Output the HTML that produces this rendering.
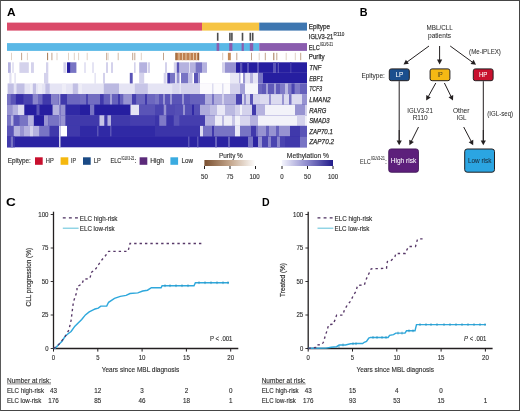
<!DOCTYPE html>
<html><head><meta charset="utf-8"><style>
html,body{margin:0;padding:0;width:520px;height:411px;overflow:hidden;background:#fff}
svg{filter:blur(0.55px)}
</style></head><body>
<svg width="520" height="411" viewBox="0 0 520 411" style="position:absolute;left:0;top:0;font-family:'Liberation Sans', sans-serif">
<rect x="0" y="0" width="520" height="411" fill="#fff"/>
<rect x="7" y="62.3" width="300" height="10.90000000000001" fill="#ffffff"/>
<rect x="8.0" y="62.3" width="2.8" height="10.90000000000001" fill="#b5b2df"/>
<rect x="12.0" y="62.3" width="2.0" height="10.90000000000001" fill="#e5e4f4"/>
<rect x="19.4" y="62.3" width="9.4" height="10.90000000000001" fill="#d4d2ec"/>
<rect x="31.0" y="62.3" width="2.9" height="10.90000000000001" fill="#d4d2ec"/>
<rect x="46.0" y="62.3" width="2.3" height="10.90000000000001" fill="#d4d2ec"/>
<rect x="63.4" y="62.3" width="2.9" height="10.90000000000001" fill="#d4d2ec"/>
<rect x="67.0" y="62.3" width="3.7" height="10.90000000000001" fill="#261ea0"/>
<rect x="70.7" y="62.3" width="5.7" height="10.90000000000001" fill="#7874c4"/>
<rect x="84.0" y="62.3" width="2.0" height="10.90000000000001" fill="#e5e4f4"/>
<rect x="92.0" y="62.3" width="2.0" height="10.90000000000001" fill="#e5e4f4"/>
<rect x="106.0" y="62.3" width="2.0" height="10.90000000000001" fill="#d4d2ec"/>
<rect x="111.0" y="62.3" width="2.0" height="10.90000000000001" fill="#d4d2ec"/>
<rect x="134.0" y="62.3" width="1.6" height="10.90000000000001" fill="#d4d2ec"/>
<rect x="139.2" y="62.3" width="7.9" height="10.90000000000001" fill="#b5b2df"/>
<rect x="147.8" y="62.3" width="2.2" height="10.90000000000001" fill="#d4d2ec"/>
<rect x="165.0" y="62.3" width="2.0" height="10.90000000000001" fill="#d4d2ec"/>
<rect x="173.8" y="62.3" width="2.2" height="10.90000000000001" fill="#d4d2ec"/>
<rect x="176.6" y="62.3" width="2.9" height="10.90000000000001" fill="#5a54b7"/>
<rect x="180.0" y="62.3" width="9.0" height="10.90000000000001" fill="#b5b2df"/>
<rect x="189.6" y="62.3" width="5.8" height="10.90000000000001" fill="#b5b2df"/>
<rect x="195.4" y="62.3" width="6.6" height="10.90000000000001" fill="#7874c4"/>
<rect x="202.0" y="62.3" width="5.0" height="10.90000000000001" fill="#b5b2df"/>
<rect x="222.0" y="62.3" width="3.0" height="10.90000000000001" fill="#d4d2ec"/>
<rect x="225.0" y="62.3" width="11.0" height="10.90000000000001" fill="#9793d1"/>
<rect x="236.0" y="62.3" width="21.0" height="10.90000000000001" fill="#261ea0"/>
<rect x="240.0" y="62.3" width="2.3" height="10.90000000000001" fill="#5a54b7"/>
<rect x="247.0" y="62.3" width="2.0" height="10.90000000000001" fill="#5a54b7"/>
<rect x="257.0" y="62.3" width="2.0" height="10.90000000000001" fill="#5a54b7"/>
<rect x="259.0" y="62.3" width="48.0" height="10.90000000000001" fill="#261ea0"/>
<rect x="273.0" y="62.3" width="3.0" height="10.90000000000001" fill="#5a54b7"/>
<rect x="277.7" y="62.3" width="1.3" height="10.90000000000001" fill="#5a54b7"/>
<rect x="290.0" y="62.3" width="1.5" height="10.90000000000001" fill="#4039ab"/>
<rect x="7" y="72.9" width="300" height="10.899999999999995" fill="#ffffff"/>
<rect x="9.3" y="72.9" width="2.2" height="10.899999999999995" fill="#e1e0f2"/>
<rect x="14.4" y="72.9" width="1.4" height="10.899999999999995" fill="#e1e0f2"/>
<rect x="44.0" y="72.9" width="4.3" height="10.899999999999995" fill="#d4d2ec"/>
<rect x="94.4" y="72.9" width="1.5" height="10.899999999999995" fill="#e5e4f4"/>
<rect x="103.0" y="72.9" width="2.0" height="10.899999999999995" fill="#d4d2ec"/>
<rect x="129.8" y="72.9" width="2.9" height="10.899999999999995" fill="#5a54b7"/>
<rect x="139.2" y="72.9" width="5.0" height="10.899999999999995" fill="#d4d2ec"/>
<rect x="163.7" y="72.9" width="2.8" height="10.899999999999995" fill="#d4d2ec"/>
<rect x="167.3" y="72.9" width="2.7" height="10.899999999999995" fill="#4039ab"/>
<rect x="170.0" y="72.9" width="5.2" height="10.899999999999995" fill="#7874c4"/>
<rect x="176.6" y="72.9" width="2.9" height="10.899999999999995" fill="#9793d1"/>
<rect x="181.0" y="72.9" width="7.0" height="10.899999999999995" fill="#7874c4"/>
<rect x="188.0" y="72.9" width="4.5" height="10.899999999999995" fill="#c1bfe4"/>
<rect x="194.0" y="72.9" width="4.3" height="10.899999999999995" fill="#5a54b7"/>
<rect x="198.3" y="72.9" width="1.7" height="10.899999999999995" fill="#9793d1"/>
<rect x="200.0" y="72.9" width="30.0" height="10.899999999999995" fill="#ffffff"/>
<rect x="230.0" y="72.9" width="10.0" height="10.899999999999995" fill="#e9e8f6"/>
<rect x="239.0" y="72.9" width="1.5" height="10.899999999999995" fill="#b5b2df"/>
<rect x="243.0" y="72.9" width="2.4" height="10.899999999999995" fill="#9793d1"/>
<rect x="245.4" y="72.9" width="4.6" height="10.899999999999995" fill="#e5e4f4"/>
<rect x="250.0" y="72.9" width="3.0" height="10.899999999999995" fill="#b5b2df"/>
<rect x="253.0" y="72.9" width="5.0" height="10.899999999999995" fill="#e5e4f4"/>
<rect x="258.0" y="72.9" width="5.0" height="10.899999999999995" fill="#7874c4"/>
<rect x="263.0" y="72.9" width="44.0" height="10.899999999999995" fill="#261ea0"/>
<rect x="7" y="83.5" width="300" height="10.899999999999995" fill="#e5e4f4"/>
<rect x="10.0" y="83.5" width="2.0" height="10.899999999999995" fill="#f2f2f9"/>
<rect x="30.0" y="83.5" width="2.0" height="10.899999999999995" fill="#eeedf7"/>
<rect x="38.0" y="83.5" width="4.0" height="10.899999999999995" fill="#eeedf7"/>
<rect x="62.0" y="83.5" width="4.0" height="10.899999999999995" fill="#eeedf7"/>
<rect x="79.0" y="83.5" width="3.0" height="10.899999999999995" fill="#eeedf7"/>
<rect x="8.0" y="83.5" width="5.7" height="10.899999999999995" fill="#c1bfe4"/>
<rect x="16.5" y="83.5" width="8.0" height="10.899999999999995" fill="#c1bfe4"/>
<rect x="33.0" y="83.5" width="3.0" height="10.899999999999995" fill="#c1bfe4"/>
<rect x="45.4" y="83.5" width="4.3" height="10.899999999999995" fill="#c1bfe4"/>
<rect x="72.8" y="83.5" width="5.1" height="10.899999999999995" fill="#c1bfe4"/>
<rect x="103.8" y="83.5" width="15.2" height="10.899999999999995" fill="#bbb9e1"/>
<rect x="134.8" y="83.5" width="13.0" height="10.899999999999995" fill="#c7c5e7"/>
<rect x="172.3" y="83.5" width="7.2" height="10.899999999999995" fill="#d8d6ee"/>
<rect x="181.0" y="83.5" width="17.3" height="10.899999999999995" fill="#d4d2ec"/>
<rect x="198.0" y="83.5" width="2.0" height="10.899999999999995" fill="#d4d2ec"/>
<rect x="200.0" y="83.5" width="30.0" height="10.899999999999995" fill="#fbfafd"/>
<rect x="212.0" y="83.5" width="1.5" height="10.899999999999995" fill="#dcdbf0"/>
<rect x="222.0" y="83.5" width="1.5" height="10.899999999999995" fill="#dcdbf0"/>
<rect x="230.0" y="83.5" width="10.0" height="10.899999999999995" fill="#d4d2ec"/>
<rect x="240.0" y="83.5" width="5.0" height="10.899999999999995" fill="#a3a0d7"/>
<rect x="245.0" y="83.5" width="13.0" height="10.899999999999995" fill="#f6f6fb"/>
<rect x="258.0" y="83.5" width="4.0" height="10.899999999999995" fill="#6c67bf"/>
<rect x="262.0" y="83.5" width="18.0" height="10.899999999999995" fill="#605ab9"/>
<rect x="266.0" y="83.5" width="2.0" height="10.899999999999995" fill="#a3a0d7"/>
<rect x="274.0" y="83.5" width="2.0" height="10.899999999999995" fill="#a3a0d7"/>
<rect x="280.0" y="83.5" width="20.0" height="10.899999999999995" fill="#7f7ac7"/>
<rect x="285.0" y="83.5" width="3.0" height="10.899999999999995" fill="#bbb9e1"/>
<rect x="291.5" y="83.5" width="3.1" height="10.899999999999995" fill="#4a44b0"/>
<rect x="300.0" y="83.5" width="7.0" height="10.899999999999995" fill="#6661bc"/>
<rect x="7" y="94.1" width="300" height="10.90000000000001" fill="#6c67bf"/>
<rect x="7.0" y="94.1" width="3.8" height="10.90000000000001" fill="#7874c4"/>
<rect x="10.8" y="94.1" width="5.0" height="10.90000000000001" fill="#5a54b7"/>
<rect x="15.8" y="94.1" width="8.0" height="10.90000000000001" fill="#362ea7"/>
<rect x="23.8" y="94.1" width="8.6" height="10.90000000000001" fill="#4a44b0"/>
<rect x="33.0" y="94.1" width="5.0" height="10.90000000000001" fill="#8b86cc"/>
<rect x="38.0" y="94.1" width="4.5" height="10.90000000000001" fill="#6c67bf"/>
<rect x="42.5" y="94.1" width="8.5" height="10.90000000000001" fill="#4039ab"/>
<rect x="51.0" y="94.1" width="7.4" height="10.90000000000001" fill="#8580c9"/>
<rect x="60.5" y="94.1" width="6.5" height="10.90000000000001" fill="#4039ab"/>
<rect x="67.0" y="94.1" width="13.0" height="10.90000000000001" fill="#6c67bf"/>
<rect x="80.0" y="94.1" width="20.0" height="10.90000000000001" fill="#726dc1"/>
<rect x="86.0" y="94.1" width="2.0" height="10.90000000000001" fill="#4a44b0"/>
<rect x="100.0" y="94.1" width="3.8" height="10.90000000000001" fill="#4039ab"/>
<rect x="103.8" y="94.1" width="19.5" height="10.90000000000001" fill="#6661bc"/>
<rect x="110.0" y="94.1" width="2.0" height="10.90000000000001" fill="#a3a0d7"/>
<rect x="118.0" y="94.1" width="2.0" height="10.90000000000001" fill="#4039ab"/>
<rect x="123.3" y="94.1" width="8.7" height="10.90000000000001" fill="#9793d1"/>
<rect x="132.0" y="94.1" width="4.3" height="10.90000000000001" fill="#453eae"/>
<rect x="136.3" y="94.1" width="18.7" height="10.90000000000001" fill="#6c67bf"/>
<rect x="145.0" y="94.1" width="2.0" height="10.90000000000001" fill="#4039ab"/>
<rect x="155.0" y="94.1" width="4.0" height="10.90000000000001" fill="#7874c4"/>
<rect x="159.0" y="94.1" width="16.0" height="10.90000000000001" fill="#5a54b7"/>
<rect x="163.0" y="94.1" width="2.0" height="10.90000000000001" fill="#9793d1"/>
<rect x="170.0" y="94.1" width="2.0" height="10.90000000000001" fill="#9793d1"/>
<rect x="175.0" y="94.1" width="15.0" height="10.90000000000001" fill="#5a54b7"/>
<rect x="182.0" y="94.1" width="2.0" height="10.90000000000001" fill="#9793d1"/>
<rect x="190.0" y="94.1" width="15.0" height="10.90000000000001" fill="#6661bc"/>
<rect x="205.0" y="94.1" width="31.0" height="10.90000000000001" fill="#afacdc"/>
<rect x="212.0" y="94.1" width="2.0" height="10.90000000000001" fill="#7874c4"/>
<rect x="222.0" y="94.1" width="2.0" height="10.90000000000001" fill="#d4d2ec"/>
<rect x="236.0" y="94.1" width="6.0" height="10.90000000000001" fill="#4a44b0"/>
<rect x="242.0" y="94.1" width="8.0" height="10.90000000000001" fill="#d4d2ec"/>
<rect x="244.0" y="94.1" width="2.0" height="10.90000000000001" fill="#9793d1"/>
<rect x="250.0" y="94.1" width="3.0" height="10.90000000000001" fill="#5a54b7"/>
<rect x="253.0" y="94.1" width="7.0" height="10.90000000000001" fill="#d4d2ec"/>
<rect x="260.0" y="94.1" width="47.0" height="10.90000000000001" fill="#dcdbf0"/>
<rect x="269.0" y="94.1" width="2.0" height="10.90000000000001" fill="#9793d1"/>
<rect x="282.0" y="94.1" width="2.0" height="10.90000000000001" fill="#9793d1"/>
<rect x="289.0" y="94.1" width="2.5" height="10.90000000000001" fill="#7874c4"/>
<rect x="302.0" y="94.1" width="5.0" height="10.90000000000001" fill="#9793d1"/>
<rect x="7" y="104.7" width="300" height="10.899999999999995" fill="#4039ab"/>
<rect x="7.0" y="104.7" width="5.2" height="10.899999999999995" fill="#9793d1"/>
<rect x="12.2" y="104.7" width="5.8" height="10.899999999999995" fill="#b5b2df"/>
<rect x="18.0" y="104.7" width="6.5" height="10.899999999999995" fill="#dcdbf0"/>
<rect x="24.5" y="104.7" width="28.1" height="10.899999999999995" fill="#261ea0"/>
<rect x="36.5" y="104.7" width="3.0" height="10.899999999999995" fill="#5a54b7"/>
<rect x="52.6" y="104.7" width="6.4" height="10.899999999999995" fill="#b5b2df"/>
<rect x="60.5" y="104.7" width="5.1" height="10.899999999999995" fill="#9793d1"/>
<rect x="65.6" y="104.7" width="14.4" height="10.899999999999995" fill="#3029a5"/>
<rect x="80.0" y="104.7" width="10.0" height="10.899999999999995" fill="#261ea0"/>
<rect x="90.0" y="104.7" width="4.4" height="10.899999999999995" fill="#7874c4"/>
<rect x="94.4" y="104.7" width="36.1" height="10.899999999999995" fill="#261ea0"/>
<rect x="130.5" y="104.7" width="8.7" height="10.899999999999995" fill="#e5e4f4"/>
<rect x="139.2" y="104.7" width="15.8" height="10.899999999999995" fill="#5a54b7"/>
<rect x="155.0" y="104.7" width="8.7" height="10.899999999999995" fill="#4a44b0"/>
<rect x="163.7" y="104.7" width="2.8" height="10.899999999999995" fill="#9793d1"/>
<rect x="166.5" y="104.7" width="8.5" height="10.899999999999995" fill="#5049b2"/>
<rect x="175.0" y="104.7" width="25.0" height="10.899999999999995" fill="#554fb5"/>
<rect x="183.0" y="104.7" width="2.0" height="10.899999999999995" fill="#9793d1"/>
<rect x="192.0" y="104.7" width="2.0" height="10.899999999999995" fill="#3029a5"/>
<rect x="200.0" y="104.7" width="10.0" height="10.899999999999995" fill="#afacdc"/>
<rect x="210.0" y="104.7" width="7.0" height="10.899999999999995" fill="#c1bfe4"/>
<rect x="217.0" y="104.7" width="8.0" height="10.899999999999995" fill="#e9e8f6"/>
<rect x="225.0" y="104.7" width="10.0" height="10.899999999999995" fill="#bbb9e1"/>
<rect x="235.0" y="104.7" width="17.0" height="10.899999999999995" fill="#d4d2ec"/>
<rect x="240.0" y="104.7" width="2.0" height="10.899999999999995" fill="#f2f2f9"/>
<rect x="252.0" y="104.7" width="4.0" height="10.899999999999995" fill="#4039ab"/>
<rect x="256.0" y="104.7" width="9.0" height="10.899999999999995" fill="#b5b2df"/>
<rect x="265.0" y="104.7" width="30.0" height="10.899999999999995" fill="#f2f2f9"/>
<rect x="295.0" y="104.7" width="10.0" height="10.899999999999995" fill="#9793d1"/>
<rect x="305.0" y="104.7" width="2.0" height="10.899999999999995" fill="#d4d2ec"/>
<rect x="7" y="115.3" width="300" height="10.90000000000001" fill="#4a44b0"/>
<rect x="7.0" y="115.3" width="3.8" height="10.90000000000001" fill="#7874c4"/>
<rect x="10.8" y="115.3" width="2.9" height="10.90000000000001" fill="#b5b2df"/>
<rect x="13.7" y="115.3" width="5.7" height="10.90000000000001" fill="#5a54b7"/>
<rect x="19.4" y="115.3" width="8.6" height="10.90000000000001" fill="#7874c4"/>
<rect x="28.0" y="115.3" width="5.9" height="10.90000000000001" fill="#b5b2df"/>
<rect x="33.9" y="115.3" width="10.1" height="10.90000000000001" fill="#261ea0"/>
<rect x="44.0" y="115.3" width="4.3" height="10.90000000000001" fill="#9793d1"/>
<rect x="48.3" y="115.3" width="10.7" height="10.90000000000001" fill="#7874c4"/>
<rect x="60.5" y="115.3" width="5.1" height="10.90000000000001" fill="#9793d1"/>
<rect x="65.6" y="115.3" width="14.4" height="10.90000000000001" fill="#4039ab"/>
<rect x="80.0" y="115.3" width="19.5" height="10.90000000000001" fill="#4039ab"/>
<rect x="99.5" y="115.3" width="5.0" height="10.90000000000001" fill="#c7c5e7"/>
<rect x="104.5" y="115.3" width="3.0" height="10.90000000000001" fill="#4039ab"/>
<rect x="107.5" y="115.3" width="3.5" height="10.90000000000001" fill="#b5b2df"/>
<rect x="111.0" y="115.3" width="19.5" height="10.90000000000001" fill="#4039ab"/>
<rect x="130.5" y="115.3" width="24.5" height="10.90000000000001" fill="#453eae"/>
<rect x="155.0" y="115.3" width="4.3" height="10.90000000000001" fill="#3b34a9"/>
<rect x="159.3" y="115.3" width="7.2" height="10.90000000000001" fill="#7f7ac7"/>
<rect x="166.5" y="115.3" width="7.3" height="10.90000000000001" fill="#3b34a9"/>
<rect x="173.8" y="115.3" width="5.7" height="10.90000000000001" fill="#5a54b7"/>
<rect x="179.5" y="115.3" width="25.5" height="10.90000000000001" fill="#453eae"/>
<rect x="205.0" y="115.3" width="10.0" height="10.90000000000001" fill="#b5b2df"/>
<rect x="215.0" y="115.3" width="17.0" height="10.90000000000001" fill="#eeedf7"/>
<rect x="222.0" y="115.3" width="2.0" height="10.90000000000001" fill="#bbb9e1"/>
<rect x="232.0" y="115.3" width="3.0" height="10.90000000000001" fill="#c7c5e7"/>
<rect x="235.0" y="115.3" width="5.0" height="10.90000000000001" fill="#f2f2f9"/>
<rect x="240.0" y="115.3" width="10.0" height="10.90000000000001" fill="#d8d6ee"/>
<rect x="250.0" y="115.3" width="8.0" height="10.90000000000001" fill="#b5b2df"/>
<rect x="258.0" y="115.3" width="49.0" height="10.90000000000001" fill="#f2f2f9"/>
<rect x="297.0" y="115.3" width="8.0" height="10.90000000000001" fill="#d4d2ec"/>
<rect x="7" y="125.9" width="300" height="10.899999999999995" fill="#4039ab"/>
<rect x="7.0" y="125.9" width="6.7" height="10.899999999999995" fill="#5a54b7"/>
<rect x="13.7" y="125.9" width="25.9" height="10.899999999999995" fill="#b5b2df"/>
<rect x="20.0" y="125.9" width="4.0" height="10.899999999999995" fill="#9793d1"/>
<rect x="30.0" y="125.9" width="3.0" height="10.899999999999995" fill="#d4d2ec"/>
<rect x="39.6" y="125.9" width="10.1" height="10.899999999999995" fill="#7874c4"/>
<rect x="49.7" y="125.9" width="8.7" height="10.899999999999995" fill="#4039ab"/>
<rect x="60.5" y="125.9" width="6.5" height="10.899999999999995" fill="#ffffff"/>
<rect x="67.0" y="125.9" width="13.0" height="10.899999999999995" fill="#4039ab"/>
<rect x="80.0" y="125.9" width="75.0" height="10.899999999999995" fill="#3029a5"/>
<rect x="97.0" y="125.9" width="1.5" height="10.899999999999995" fill="#5a54b7"/>
<rect x="110.0" y="125.9" width="1.5" height="10.899999999999995" fill="#5a54b7"/>
<rect x="155.0" y="125.9" width="45.0" height="10.899999999999995" fill="#3b34a9"/>
<rect x="200.0" y="125.9" width="3.0" height="10.899999999999995" fill="#dcdbf0"/>
<rect x="203.0" y="125.9" width="32.0" height="10.899999999999995" fill="#7874c4"/>
<rect x="212.0" y="125.9" width="2.0" height="10.899999999999995" fill="#4039ab"/>
<rect x="235.0" y="125.9" width="5.0" height="10.899999999999995" fill="#e9e8f6"/>
<rect x="240.0" y="125.9" width="18.0" height="10.899999999999995" fill="#7874c4"/>
<rect x="251.0" y="125.9" width="5.0" height="10.899999999999995" fill="#4039ab"/>
<rect x="258.0" y="125.9" width="32.0" height="10.899999999999995" fill="#9793d1"/>
<rect x="266.0" y="125.9" width="3.0" height="10.899999999999995" fill="#6661bc"/>
<rect x="276.0" y="125.9" width="3.0" height="10.899999999999995" fill="#6661bc"/>
<rect x="290.0" y="125.9" width="10.0" height="10.899999999999995" fill="#4039ab"/>
<rect x="300.0" y="125.9" width="7.0" height="10.899999999999995" fill="#5a54b7"/>
<rect x="7" y="136.5" width="300" height="10.8" fill="#2b23a2"/>
<rect x="7.0" y="136.5" width="8.0" height="10.8" fill="#4039ab"/>
<rect x="10.8" y="136.5" width="2.2" height="10.8" fill="#7874c4"/>
<rect x="188.0" y="136.5" width="1.5" height="10.8" fill="#5a54b7"/>
<rect x="197.0" y="136.5" width="1.5" height="10.8" fill="#5a54b7"/>
<rect x="215.0" y="136.5" width="2.0" height="10.8" fill="#6661bc"/>
<rect x="228.0" y="136.5" width="2.0" height="10.8" fill="#6661bc"/>
<rect x="248.0" y="136.5" width="5.0" height="10.8" fill="#7874c4"/>
<rect x="258.0" y="136.5" width="4.0" height="10.8" fill="#9793d1"/>
<rect x="262.0" y="136.5" width="23.0" height="10.8" fill="#4a44b0"/>
<rect x="268.0" y="136.5" width="3.0" height="10.8" fill="#8b86cc"/>
<rect x="277.0" y="136.5" width="3.0" height="10.8" fill="#8b86cc"/>
<rect x="285.0" y="136.5" width="15.0" height="10.8" fill="#4039ab"/>
<rect x="300.0" y="136.5" width="7.0" height="10.8" fill="#7874c4"/>
<rect x="59.2" y="125.9" width="1.2" height="21.099999999999994" fill="#fff"/>
<rect x="59.2" y="94.1" width="1.0" height="31.80000000000001" fill="#fff" opacity="0.5"/>
<rect x="7" y="22.6" width="195" height="8" fill="#da4a69"/>
<rect x="202" y="22.6" width="57.2" height="8" fill="#f6c443"/>
<rect x="259.2" y="22.6" width="47.8" height="8" fill="#3e76b0"/>
<rect x="7" y="43.1" width="252.2" height="7.8" fill="#5ab8e6"/>
<rect x="259.2" y="43.1" width="47.8" height="7.8" fill="#8a5cae"/>
<rect x="216.6" y="43.1" width="2.5999999999999943" height="7.8" fill="#8a5cae"/>
<rect x="229.2" y="43.1" width="3.200000000000017" height="7.8" fill="#8a5cae"/>
<rect x="241.6" y="43.1" width="2.200000000000017" height="7.8" fill="#8a5cae"/>
<rect x="249.8" y="43.1" width="3.3999999999999773" height="7.8" fill="#8a5cae"/>
<rect x="216.89999999999998" y="32.8" width="1.6" height="8" fill="#4d4d4d"/>
<rect x="229.1" y="32.8" width="1.6" height="8" fill="#4d4d4d"/>
<rect x="231.1" y="32.8" width="1.6" height="8" fill="#4d4d4d"/>
<rect x="241.7" y="32.8" width="1.6" height="8" fill="#4d4d4d"/>
<rect x="249.5" y="32.8" width="1.6" height="8" fill="#4d4d4d"/>
<rect x="251.89999999999998" y="32.8" width="1.6" height="8" fill="#4d4d4d"/>
<rect x="11.0" y="52.8" width="1.0" height="7.4" fill="#e0d2c6"/>
<rect x="21.1" y="52.8" width="1.0" height="7.4" fill="#c2a48c"/>
<rect x="26.9" y="52.8" width="1.0" height="7.4" fill="#e0d2c6"/>
<rect x="47.1" y="52.8" width="1.0" height="7.4" fill="#a37753"/>
<rect x="51.4" y="52.8" width="1.0" height="7.4" fill="#c2a48c"/>
<rect x="56.5" y="52.8" width="1.0" height="7.4" fill="#e0d2c6"/>
<rect x="68.0" y="52.8" width="1.0" height="7.4" fill="#e0d2c6"/>
<rect x="73.8" y="52.8" width="1.0" height="7.4" fill="#e0d2c6"/>
<rect x="78.1" y="52.8" width="1.0" height="7.4" fill="#e0d2c6"/>
<rect x="86.7" y="52.8" width="1.0" height="7.4" fill="#e0d2c6"/>
<rect x="106.2" y="52.8" width="1.0" height="7.4" fill="#c2a48c"/>
<rect x="107.6" y="52.8" width="1.0" height="7.4" fill="#e0d2c6"/>
<rect x="117.7" y="52.8" width="1.0" height="7.4" fill="#d1bba9"/>
<rect x="132.2" y="52.8" width="1.0" height="7.4" fill="#c2a48c"/>
<rect x="134.3" y="52.8" width="1.0" height="7.4" fill="#c2a48c"/>
<rect x="140.8" y="52.8" width="1.0" height="7.4" fill="#e0d2c6"/>
<rect x="163.0" y="52.8" width="1.0" height="7.4" fill="#c2a48c"/>
<rect x="222.2" y="52.8" width="1.0" height="7.4" fill="#dac9ba"/>
<rect x="236.3" y="52.8" width="1.0" height="7.4" fill="#c2a48c"/>
<rect x="251.0" y="52.8" width="1.0" height="7.4" fill="#c2a48c"/>
<rect x="258.7" y="52.8" width="1.0" height="7.4" fill="#e0d2c6"/>
<rect x="264.8" y="52.8" width="1.0" height="7.4" fill="#c2a48c"/>
<rect x="273.3" y="52.8" width="1.0" height="7.4" fill="#a37753"/>
<rect x="276.3" y="52.8" width="1.0" height="7.4" fill="#c2a48c"/>
<rect x="285.7" y="52.8" width="1.0" height="7.4" fill="#e0d2c6"/>
<rect x="294.8" y="52.8" width="1.0" height="7.4" fill="#e0d2c6"/>
<rect x="300.2" y="52.8" width="1.0" height="7.4" fill="#c2a48c"/>
<rect x="175.5" y="52.8" width="23.5" height="7.4" fill="#c08150"/>
<rect x="227.9" y="52.8" width="2.9" height="7.4" fill="#c48a58"/>
<rect x="175.5" y="52.8" width="0.9" height="7.4" fill="#8a5a30"/>
<rect x="198.3" y="52.8" width="0.9" height="7.4" fill="#8a5a30"/>
<rect x="178.5" y="52.8" width="1" height="7.4" fill="#e6c9a8"/>
<rect x="182" y="52.8" width="1" height="7.4" fill="#e6c9a8"/>
<rect x="185.5" y="52.8" width="1" height="7.4" fill="#e6c9a8"/>
<rect x="189.5" y="52.8" width="1" height="7.4" fill="#e6c9a8"/>
<rect x="193" y="52.8" width="1" height="7.4" fill="#e6c9a8"/>
<rect x="196" y="52.8" width="1" height="7.4" fill="#e6c9a8"/>
<text x="308.8" y="28.9" font-size="7.0" text-anchor="start" fill="#2e2e2e" font-weight="normal" font-style="normal" textLength="21.2" lengthAdjust="spacingAndGlyphs" stroke="#2e2e2e" stroke-width="0.25" >Epitype</text>
<text x="308.8" y="39.3" font-size="7.0" text-anchor="start" fill="#2e2e2e" font-weight="normal" font-style="normal" textLength="24.4" lengthAdjust="spacingAndGlyphs" stroke="#2e2e2e" stroke-width="0.25" >IGLV3-21</text>
<text x="333.6" y="36.4" font-size="5.0" text-anchor="start" fill="#2e2e2e" font-weight="normal" font-style="normal" textLength="10.8" lengthAdjust="spacingAndGlyphs" stroke="#2e2e2e" stroke-width="0.14" >R110</text>
<text x="308.8" y="49.5" font-size="7.0" text-anchor="start" fill="#2e2e2e" font-weight="normal" font-style="normal" textLength="11" lengthAdjust="spacingAndGlyphs" stroke="#2e2e2e" stroke-width="0.25" >ELC</text>
<text x="320.2" y="46.2" font-size="5.0" text-anchor="start" fill="#2e2e2e" font-weight="normal" font-style="normal" textLength="12.6" lengthAdjust="spacingAndGlyphs" stroke="#2e2e2e" stroke-width="0.14" >IGLV3-21</text>
<text x="308.8" y="58.9" font-size="7.0" text-anchor="start" fill="#2e2e2e" font-weight="normal" font-style="normal" textLength="15.8" lengthAdjust="spacingAndGlyphs" stroke="#2e2e2e" stroke-width="0.25" >Purity</text>
<text x="309.2" y="70.1" font-size="7.5" text-anchor="start" fill="#2e2e2e" font-weight="normal" font-style="italic" textLength="12.2" lengthAdjust="spacingAndGlyphs" stroke="#2e2e2e" stroke-width="0.25" >TNF</text>
<text x="309.2" y="80.7" font-size="7.5" text-anchor="start" fill="#2e2e2e" font-weight="normal" font-style="italic" textLength="13.8" lengthAdjust="spacingAndGlyphs" stroke="#2e2e2e" stroke-width="0.25" >EBF1</text>
<text x="309.2" y="91.3" font-size="7.5" text-anchor="start" fill="#2e2e2e" font-weight="normal" font-style="italic" textLength="12.8" lengthAdjust="spacingAndGlyphs" stroke="#2e2e2e" stroke-width="0.25" >TCF3</text>
<text x="309.2" y="101.9" font-size="7.5" text-anchor="start" fill="#2e2e2e" font-weight="normal" font-style="italic" textLength="21.4" lengthAdjust="spacingAndGlyphs" stroke="#2e2e2e" stroke-width="0.25" >LMAN2</text>
<text x="309.2" y="112.5" font-size="7.5" text-anchor="start" fill="#2e2e2e" font-weight="normal" font-style="italic" textLength="17.1" lengthAdjust="spacingAndGlyphs" stroke="#2e2e2e" stroke-width="0.25" >RARG</text>
<text x="309.2" y="123.1" font-size="7.5" text-anchor="start" fill="#2e2e2e" font-weight="normal" font-style="italic" textLength="20.3" lengthAdjust="spacingAndGlyphs" stroke="#2e2e2e" stroke-width="0.25" >SMAD3</text>
<text x="309.2" y="133.7" font-size="7.5" text-anchor="start" fill="#2e2e2e" font-weight="normal" font-style="italic" textLength="23.6" lengthAdjust="spacingAndGlyphs" stroke="#2e2e2e" stroke-width="0.25" >ZAP70.1</text>
<text x="309.2" y="144.2" font-size="7.5" text-anchor="start" fill="#2e2e2e" font-weight="normal" font-style="italic" textLength="24.8" lengthAdjust="spacingAndGlyphs" stroke="#2e2e2e" stroke-width="0.25" >ZAP70.2</text>
<text x="7.7" y="163.2" font-size="7.0" text-anchor="start" fill="#2e2e2e" font-weight="normal" font-style="normal" textLength="23.1" lengthAdjust="spacingAndGlyphs" stroke="#2e2e2e" stroke-width="0.14" >Epitype:</text>
<rect x="35" y="157.3" width="7.7" height="7.5" fill="#c8102e"/>
<text x="45.8" y="163.2" font-size="7.0" text-anchor="start" fill="#2e2e2e" font-weight="normal" font-style="normal" textLength="8" lengthAdjust="spacingAndGlyphs" stroke="#2e2e2e" stroke-width="0.14" >HP</text>
<rect x="60.6" y="157.3" width="7.7" height="7.5" fill="#f5b80f"/>
<text x="71" y="163.2" font-size="7.0" text-anchor="start" fill="#2e2e2e" font-weight="normal" font-style="normal" textLength="5" lengthAdjust="spacingAndGlyphs" stroke="#2e2e2e" stroke-width="0.14" >IP</text>
<rect x="83" y="157.3" width="7.7" height="7.5" fill="#1a4a85"/>
<text x="93.8" y="163.2" font-size="7.0" text-anchor="start" fill="#2e2e2e" font-weight="normal" font-style="normal" textLength="7" lengthAdjust="spacingAndGlyphs" stroke="#2e2e2e" stroke-width="0.14" >LP</text>
<text x="110.4" y="163.2" font-size="7.0" text-anchor="start" fill="#2e2e2e" font-weight="normal" font-style="normal" textLength="10.9" lengthAdjust="spacingAndGlyphs" stroke="#2e2e2e" stroke-width="0.14" >ELC</text>
<text x="121.4" y="160.3" font-size="5.0" text-anchor="start" fill="#2e2e2e" font-weight="normal" font-style="normal" textLength="12.9" lengthAdjust="spacingAndGlyphs" stroke="#2e2e2e" stroke-width="0.12" >IGLV3-21</text>
<text x="134.6" y="163.2" font-size="7.0" text-anchor="start" fill="#2e2e2e" font-weight="normal" font-style="normal" stroke="#2e2e2e" stroke-width="0.14" >:</text>
<rect x="139.6" y="157.3" width="7.7" height="7.5" fill="#5b2a7a"/>
<text x="150.2" y="163.2" font-size="7.0" text-anchor="start" fill="#2e2e2e" font-weight="normal" font-style="normal" textLength="13.8" lengthAdjust="spacingAndGlyphs" stroke="#2e2e2e" stroke-width="0.14" >High</text>
<rect x="170.4" y="157.3" width="7.7" height="7.5" fill="#3aabe0"/>
<text x="181.5" y="163.2" font-size="7.0" text-anchor="start" fill="#2e2e2e" font-weight="normal" font-style="normal" textLength="11.4" lengthAdjust="spacingAndGlyphs" stroke="#2e2e2e" stroke-width="0.14" >Low</text>
<defs><linearGradient id="gp" x1="0" x2="1"><stop offset="0" stop-color="#7a5030"/><stop offset="0.5" stop-color="#c4a68c"/><stop offset="1" stop-color="#ffffff"/></linearGradient><linearGradient id="gm" x1="0" x2="1"><stop offset="0" stop-color="#f4f4fc"/><stop offset="0.5" stop-color="#8c89cc"/><stop offset="1" stop-color="#211b8a"/></linearGradient></defs>
<text x="230.9" y="158.3" font-size="7.0" text-anchor="middle" fill="#2e2e2e" font-weight="normal" font-style="normal" textLength="23.8" lengthAdjust="spacingAndGlyphs" stroke="#2e2e2e" stroke-width="0.14" >Purity %</text>
<rect x="204.4" y="160" width="51.2" height="6" fill="url(#gp)"/>
<rect x="204.0" y="166" width="1" height="3" fill="#231f20"/>
<rect x="229.5" y="166" width="1" height="3" fill="#231f20"/>
<rect x="255.0" y="166" width="1" height="3" fill="#231f20"/>
<text x="204.5" y="179.3" font-size="7.0" text-anchor="middle" fill="#2e2e2e" font-weight="normal" font-style="normal" textLength="6.8" lengthAdjust="spacingAndGlyphs" stroke="#2e2e2e" stroke-width="0.14" >50</text>
<text x="230" y="179.3" font-size="7.0" text-anchor="middle" fill="#2e2e2e" font-weight="normal" font-style="normal" textLength="6.8" lengthAdjust="spacingAndGlyphs" stroke="#2e2e2e" stroke-width="0.14" >75</text>
<text x="254.5" y="179.3" font-size="7.0" text-anchor="middle" fill="#2e2e2e" font-weight="normal" font-style="normal" textLength="10.2" lengthAdjust="spacingAndGlyphs" stroke="#2e2e2e" stroke-width="0.14" >100</text>
<text x="307.9" y="158.3" font-size="7.0" text-anchor="middle" fill="#2e2e2e" font-weight="normal" font-style="normal" textLength="42.2" lengthAdjust="spacingAndGlyphs" stroke="#2e2e2e" stroke-width="0.14" >Methylation %</text>
<rect x="281.8" y="160" width="51.2" height="6" fill="url(#gm)"/>
<rect x="281.5" y="166" width="1" height="3" fill="#231f20"/>
<rect x="307.0" y="166" width="1" height="3" fill="#231f20"/>
<rect x="332.5" y="166" width="1" height="3" fill="#231f20"/>
<text x="282" y="179.3" font-size="7.0" text-anchor="middle" fill="#2e2e2e" font-weight="normal" font-style="normal" textLength="3.4" lengthAdjust="spacingAndGlyphs" stroke="#2e2e2e" stroke-width="0.14" >0</text>
<text x="307.5" y="179.3" font-size="7.0" text-anchor="middle" fill="#2e2e2e" font-weight="normal" font-style="normal" textLength="6.8" lengthAdjust="spacingAndGlyphs" stroke="#2e2e2e" stroke-width="0.14" >50</text>
<text x="333" y="179.3" font-size="7.0" text-anchor="middle" fill="#2e2e2e" font-weight="normal" font-style="normal" textLength="10.2" lengthAdjust="spacingAndGlyphs" stroke="#2e2e2e" stroke-width="0.14" >100</text>
<text x="7" y="16.3" font-size="11.5" text-anchor="start" fill="#000" font-weight="bold" font-style="normal" textLength="8.6" lengthAdjust="spacingAndGlyphs" >A</text>
<text x="359.8" y="16.3" font-size="11.5" text-anchor="start" fill="#000" font-weight="bold" font-style="normal" textLength="7.8" lengthAdjust="spacingAndGlyphs" >B</text>
<text x="6" y="205.6" font-size="11.5" text-anchor="start" fill="#000" font-weight="bold" font-style="normal" textLength="9.8" lengthAdjust="spacingAndGlyphs" >C</text>
<text x="262" y="206" font-size="11.5" text-anchor="start" fill="#000" font-weight="bold" font-style="normal" textLength="7.6" lengthAdjust="spacingAndGlyphs" >D</text>
<text x="439.6" y="30.2" font-size="7.0" text-anchor="middle" fill="#2e2e2e" font-weight="normal" font-style="normal" textLength="26.2" lengthAdjust="spacingAndGlyphs" stroke="#2e2e2e" stroke-width="0.05" >MBL/CLL</text>
<text x="439.5" y="38.0" font-size="7.0" text-anchor="middle" fill="#2e2e2e" font-weight="normal" font-style="normal" textLength="23" lengthAdjust="spacingAndGlyphs" stroke="#2e2e2e" stroke-width="0.05" >patients</text>
<text x="485" y="53.7" font-size="7.0" text-anchor="middle" fill="#2e2e2e" font-weight="normal" font-style="normal" textLength="31.8" lengthAdjust="spacingAndGlyphs" stroke="#2e2e2e" stroke-width="0.05" >(Me-iPLEX)</text>
<line x1="429" y1="46" x2="406.97" y2="62.07" stroke="#231f20" stroke-width="1.0"/>
<polygon points="403.50,64.60 405.85,59.67 408.91,63.87" fill="#231f20"/>
<line x1="439.6" y1="46" x2="439.60" y2="60.10" stroke="#231f20" stroke-width="1.0"/>
<polygon points="439.60,64.40 437.00,59.60 442.20,59.60" fill="#231f20"/>
<line x1="450.2" y1="46" x2="472.52" y2="62.27" stroke="#231f20" stroke-width="1.0"/>
<polygon points="476.00,64.80 470.59,64.07 473.65,59.87" fill="#231f20"/>
<rect x="389.3" y="68.9" width="20.0" height="11.799999999999997" rx="2" ry="2" fill="#1b4f8e" stroke="#231f20" stroke-width="1"/>
<text x="399.3" y="77.0" font-size="7.0" text-anchor="middle" fill="#fff" font-weight="normal" font-style="normal" textLength="7.6" lengthAdjust="spacingAndGlyphs" stroke="#fff" stroke-width="0.05" >LP</text>
<rect x="430.1" y="68.9" width="19.799999999999955" height="11.799999999999997" rx="2" ry="2" fill="#f5b914" stroke="#231f20" stroke-width="1"/>
<text x="440.0" y="77.0" font-size="7.0" text-anchor="middle" fill="#5a4a20" font-weight="normal" font-style="normal" textLength="5.2" lengthAdjust="spacingAndGlyphs" stroke="#5a4a20" stroke-width="0.05" >IP</text>
<rect x="473.3" y="68.9" width="19.80000000000001" height="11.799999999999997" rx="2" ry="2" fill="#c8102e" stroke="#231f20" stroke-width="1"/>
<text x="483.20000000000005" y="77.0" font-size="7.0" text-anchor="middle" fill="#fff" font-weight="normal" font-style="normal" textLength="8.4" lengthAdjust="spacingAndGlyphs" stroke="#fff" stroke-width="0.05" >HP</text>
<text x="384.9" y="77.7" font-size="7.0" text-anchor="end" fill="#2e2e2e" font-weight="normal" font-style="normal" textLength="23.5" lengthAdjust="spacingAndGlyphs" stroke="#2e2e2e" stroke-width="0.05" >Epitype:</text>
<line x1="399.2" y1="81.2" x2="399.2" y2="141" stroke="#231f20" stroke-width="1"/>
<line x1="399.2" y1="130" x2="399.20" y2="140.90" stroke="#231f20" stroke-width="1.0"/>
<polygon points="399.20,145.20 396.60,140.40 401.80,140.40" fill="#231f20"/>
<line x1="483.3" y1="81.2" x2="483.3" y2="141" stroke="#231f20" stroke-width="1"/>
<line x1="483.3" y1="130" x2="483.30" y2="140.90" stroke="#231f20" stroke-width="1.0"/>
<polygon points="483.30,145.20 480.70,140.40 485.90,140.40" fill="#231f20"/>
<line x1="435.8" y1="83" x2="428.28" y2="96.64" stroke="#231f20" stroke-width="1.0"/>
<polygon points="426.20,100.40 426.24,94.94 430.80,97.45" fill="#231f20"/>
<line x1="444.4" y1="83" x2="451.09" y2="96.55" stroke="#231f20" stroke-width="1.0"/>
<polygon points="453.00,100.40 448.54,97.25 453.20,94.94" fill="#231f20"/>
<text x="420.1" y="112.6" font-size="7.0" text-anchor="middle" fill="#2e2e2e" font-weight="normal" font-style="normal" textLength="25.6" lengthAdjust="spacingAndGlyphs" stroke="#2e2e2e" stroke-width="0.05" >IGLV3-21</text>
<text x="420.2" y="120.2" font-size="7.0" text-anchor="middle" fill="#2e2e2e" font-weight="normal" font-style="normal" textLength="15" lengthAdjust="spacingAndGlyphs" stroke="#2e2e2e" stroke-width="0.05" >R110</text>
<text x="461.2" y="112.6" font-size="7.0" text-anchor="middle" fill="#2e2e2e" font-weight="normal" font-style="normal" textLength="16.4" lengthAdjust="spacingAndGlyphs" stroke="#2e2e2e" stroke-width="0.05" >Other</text>
<text x="461.5" y="120.2" font-size="7.0" text-anchor="middle" fill="#2e2e2e" font-weight="normal" font-style="normal" textLength="10" lengthAdjust="spacingAndGlyphs" stroke="#2e2e2e" stroke-width="0.05" >IGL</text>
<text x="500.2" y="116.2" font-size="7.0" text-anchor="middle" fill="#2e2e2e" font-weight="normal" font-style="normal" textLength="25.7" lengthAdjust="spacingAndGlyphs" stroke="#2e2e2e" stroke-width="0.05" >(IGL-seq)</text>
<line x1="418.5" y1="127" x2="411.32" y2="141.35" stroke="#231f20" stroke-width="1.0"/>
<polygon points="409.40,145.20 409.22,139.74 413.87,142.07" fill="#231f20"/>
<line x1="463.7" y1="127" x2="471.21" y2="141.39" stroke="#231f20" stroke-width="1.0"/>
<polygon points="473.20,145.20 468.67,142.15 473.28,139.74" fill="#231f20"/>
<rect x="388.7" y="148.9" width="29.8" height="23.4" rx="2.5" ry="2.5" fill="#5d1f7b" stroke="#3a1050" stroke-width="0.8"/>
<text x="403.5" y="163" font-size="7.0" text-anchor="middle" fill="#fff" font-weight="normal" font-style="normal" textLength="25.4" lengthAdjust="spacingAndGlyphs" stroke="#fff" stroke-width="0.05" >High risk</text>
<rect x="464.7" y="149" width="29.8" height="23.2" rx="2.5" ry="2.5" fill="#2ba5e2" stroke="#231f20" stroke-width="1"/>
<text x="479.7" y="163" font-size="7.0" text-anchor="middle" fill="#1a2a3a" font-weight="normal" font-style="normal" textLength="23.5" lengthAdjust="spacingAndGlyphs" stroke="#1a2a3a" stroke-width="0.05" >Low risk</text>
<text x="360" y="163.7" font-size="7.0" text-anchor="start" fill="#2e2e2e" font-weight="normal" font-style="normal" textLength="10.8" lengthAdjust="spacingAndGlyphs" stroke="#2e2e2e" stroke-width="0.05" >ELC</text>
<text x="371.2" y="160.1" font-size="5.0" text-anchor="start" fill="#2e2e2e" font-weight="normal" font-style="normal" textLength="13.5" lengthAdjust="spacingAndGlyphs" stroke="#2e2e2e" stroke-width="0.1" >IGLV3-21</text>
<text x="385" y="163.7" font-size="7.0" text-anchor="start" fill="#2e2e2e" font-weight="normal" font-style="normal" stroke="#2e2e2e" stroke-width="0.05" >:</text>
<line x1="53.5" y1="211.7" x2="53.5" y2="349.0" stroke="#231f20" stroke-width="1.3"/>
<line x1="53.0" y1="348.5" x2="238.3" y2="348.5" stroke="#231f20" stroke-width="1.35"/>
<line x1="50.7" y1="348.5" x2="53.5" y2="348.5" stroke="#231f20" stroke-width="0.9"/>
<text x="48.5" y="350.7" font-size="7.0" text-anchor="end" fill="#2e2e2e" font-weight="normal" font-style="normal" textLength="3.3" lengthAdjust="spacingAndGlyphs" stroke="#2e2e2e" stroke-width="0.14" >0</text>
<line x1="50.7" y1="315.0" x2="53.5" y2="315.0" stroke="#231f20" stroke-width="0.9"/>
<text x="48.5" y="317.2" font-size="7.0" text-anchor="end" fill="#2e2e2e" font-weight="normal" font-style="normal" textLength="6.8" lengthAdjust="spacingAndGlyphs" stroke="#2e2e2e" stroke-width="0.14" >25</text>
<line x1="50.7" y1="281.5" x2="53.5" y2="281.5" stroke="#231f20" stroke-width="0.9"/>
<text x="48.5" y="283.7" font-size="7.0" text-anchor="end" fill="#2e2e2e" font-weight="normal" font-style="normal" textLength="6.8" lengthAdjust="spacingAndGlyphs" stroke="#2e2e2e" stroke-width="0.14" >50</text>
<line x1="50.7" y1="248.0" x2="53.5" y2="248.0" stroke="#231f20" stroke-width="0.9"/>
<text x="48.5" y="250.2" font-size="7.0" text-anchor="end" fill="#2e2e2e" font-weight="normal" font-style="normal" textLength="6.8" lengthAdjust="spacingAndGlyphs" stroke="#2e2e2e" stroke-width="0.14" >75</text>
<line x1="50.7" y1="214.5" x2="53.5" y2="214.5" stroke="#231f20" stroke-width="0.9"/>
<text x="48.5" y="216.7" font-size="7.0" text-anchor="end" fill="#2e2e2e" font-weight="normal" font-style="normal" textLength="10.2" lengthAdjust="spacingAndGlyphs" stroke="#2e2e2e" stroke-width="0.14" >100</text>
<line x1="53.5" y1="348.5" x2="53.5" y2="351.6" stroke="#231f20" stroke-width="1.0"/>
<text x="53.5" y="359.7" font-size="7.0" text-anchor="middle" fill="#2e2e2e" font-weight="normal" font-style="normal" textLength="3.3" lengthAdjust="spacingAndGlyphs" stroke="#2e2e2e" stroke-width="0.14" >0</text>
<line x1="97.8" y1="348.5" x2="97.8" y2="351.6" stroke="#231f20" stroke-width="1.0"/>
<text x="97.8" y="359.7" font-size="7.0" text-anchor="middle" fill="#2e2e2e" font-weight="normal" font-style="normal" textLength="3.3" lengthAdjust="spacingAndGlyphs" stroke="#2e2e2e" stroke-width="0.14" >5</text>
<line x1="142.1" y1="348.5" x2="142.1" y2="351.6" stroke="#231f20" stroke-width="1.0"/>
<text x="142.1" y="359.7" font-size="7.0" text-anchor="middle" fill="#2e2e2e" font-weight="normal" font-style="normal" textLength="6.8" lengthAdjust="spacingAndGlyphs" stroke="#2e2e2e" stroke-width="0.14" >10</text>
<line x1="186.39999999999998" y1="348.5" x2="186.39999999999998" y2="351.6" stroke="#231f20" stroke-width="1.0"/>
<text x="186.39999999999998" y="359.7" font-size="7.0" text-anchor="middle" fill="#2e2e2e" font-weight="normal" font-style="normal" textLength="6.8" lengthAdjust="spacingAndGlyphs" stroke="#2e2e2e" stroke-width="0.14" >15</text>
<line x1="230.7" y1="348.5" x2="230.7" y2="351.6" stroke="#231f20" stroke-width="1.0"/>
<text x="230.7" y="359.7" font-size="7.0" text-anchor="middle" fill="#2e2e2e" font-weight="normal" font-style="normal" textLength="6.8" lengthAdjust="spacingAndGlyphs" stroke="#2e2e2e" stroke-width="0.14" >20</text>
<text x="101.7" y="371.7" font-size="7.9" text-anchor="start" fill="#2e2e2e" font-weight="normal" font-style="normal" textLength="77.6" lengthAdjust="spacingAndGlyphs" stroke="#2e2e2e" stroke-width="0.14" >Years since MBL diagnosis</text>
<text transform="translate(31,277.2) rotate(-90)" x="0" y="0" font-size="7.5" text-anchor="middle" fill="#2e2e2e" stroke="#2e2e2e" stroke-width="0.18" textLength="58.5" lengthAdjust="spacingAndGlyphs">CLL progression (%)</text>
<text x="210" y="341.4" font-size="7.0" text-anchor="start" fill="#2e2e2e" font-weight="normal" font-style="normal" textLength="22.4" lengthAdjust="spacingAndGlyphs" stroke="#2e2e2e" stroke-width="0.14" >P &lt; .001</text>
<line x1="62.8" y1="217.8" x2="78.6" y2="217.8" stroke="#4a2e5e" stroke-width="1.25" stroke-dasharray="2.9,3.2"/>
<text x="79.8" y="220.5" font-size="7.0" text-anchor="start" fill="#2e2e2e" font-weight="normal" font-style="normal" textLength="37.7" lengthAdjust="spacingAndGlyphs" stroke="#2e2e2e" stroke-width="0.14" >ELC high-risk</text>
<line x1="62.8" y1="228.2" x2="78.6" y2="228.2" stroke="#6cc6dc" stroke-width="1.1"/>
<text x="79.8" y="230.9" font-size="7.0" text-anchor="start" fill="#2e2e2e" font-weight="normal" font-style="normal" textLength="34.8" lengthAdjust="spacingAndGlyphs" stroke="#2e2e2e" stroke-width="0.14" >ELC low-risk</text>
<text x="7.0" y="383.0" font-size="7.0" text-anchor="start" fill="#2e2e2e" font-weight="normal" font-style="normal" textLength="44" lengthAdjust="spacingAndGlyphs" stroke="#2e2e2e" stroke-width="0.14" >Number at risk:</text>
<line x1="7.0" y1="383.9" x2="51.0" y2="383.9" stroke="#231f20" stroke-width="0.55"/>
<text x="7.0" y="392.9" font-size="7.0" text-anchor="start" fill="#2e2e2e" font-weight="normal" font-style="normal" textLength="37" lengthAdjust="spacingAndGlyphs" stroke="#2e2e2e" stroke-width="0.14" >ELC high-risk</text>
<text x="7.0" y="402.7" font-size="7.0" text-anchor="start" fill="#2e2e2e" font-weight="normal" font-style="normal" textLength="34.2" lengthAdjust="spacingAndGlyphs" stroke="#2e2e2e" stroke-width="0.14" >ELC low-risk</text>
<polyline points="53.7,348.4 55.3,348.0 59.0,344.3 62.0,341.3 65.1,336.3 68.1,333.7 71.1,331.5 74.9,326.2 77.9,323.2 81.7,319.4 85.4,314.9 89.2,311.9 93.7,309.6 95.0,309.0 98.3,308.1 100.8,306.1 106.7,306.1 108.6,302.3 114.5,298.4 120.3,296.4 126.1,295.4 130.0,293.5 137.8,292.9 142.7,291.0 147.5,290.2 151.4,287.7 161.1,287.7 162.1,285.7 194.0,285.7 195.4,282.7 229.0,282.7" fill="none" stroke="#2fa8dc" stroke-width="1.45"/>
<line x1="165" y1="284.3" x2="165" y2="287.09999999999997" stroke="#2a8cb8" stroke-width="0.7"/>
<line x1="170" y1="284.3" x2="170" y2="287.09999999999997" stroke="#2a8cb8" stroke-width="0.7"/>
<line x1="176" y1="284.3" x2="176" y2="287.09999999999997" stroke="#2a8cb8" stroke-width="0.7"/>
<line x1="182" y1="284.3" x2="182" y2="287.09999999999997" stroke="#2a8cb8" stroke-width="0.7"/>
<line x1="188" y1="284.3" x2="188" y2="287.09999999999997" stroke="#2a8cb8" stroke-width="0.7"/>
<line x1="199" y1="281.3" x2="199" y2="284.09999999999997" stroke="#2a8cb8" stroke-width="0.7"/>
<line x1="205" y1="281.3" x2="205" y2="284.09999999999997" stroke="#2a8cb8" stroke-width="0.7"/>
<line x1="211" y1="281.3" x2="211" y2="284.09999999999997" stroke="#2a8cb8" stroke-width="0.7"/>
<line x1="217" y1="281.3" x2="217" y2="284.09999999999997" stroke="#2a8cb8" stroke-width="0.7"/>
<line x1="223" y1="281.3" x2="223" y2="284.09999999999997" stroke="#2a8cb8" stroke-width="0.7"/>
<line x1="228" y1="281.3" x2="228" y2="284.09999999999997" stroke="#2a8cb8" stroke-width="0.7"/>
<polyline points="53.7,348.4 59.0,344.3 65.1,336.6 68.9,330.0 71.1,320.2 73.4,302.0 75.4,296.0 77.0,291.4 77.0,286.5 81.9,284.1 83.7,279.2 89.8,278.6 91.0,274.3 91.0,272.5 94.7,270.1 97.1,267.0 98.9,264.0 102.0,259.7 105.6,255.5 108.6,251.3 128.1,251.3 130.0,243.5 201.4,243.5" fill="none" stroke="#573868" stroke-width="1.35" stroke-dasharray="2.4,3.0"/>
<text x="53.5" y="392.9" font-size="7.0" text-anchor="middle" fill="#2e2e2e" font-weight="normal" font-style="normal" textLength="7.0" lengthAdjust="spacingAndGlyphs" stroke="#2e2e2e" stroke-width="0.14" >43</text>
<text x="97.8" y="392.9" font-size="7.0" text-anchor="middle" fill="#2e2e2e" font-weight="normal" font-style="normal" textLength="7.0" lengthAdjust="spacingAndGlyphs" stroke="#2e2e2e" stroke-width="0.14" >12</text>
<text x="142.1" y="392.9" font-size="7.0" text-anchor="middle" fill="#2e2e2e" font-weight="normal" font-style="normal" textLength="3.5" lengthAdjust="spacingAndGlyphs" stroke="#2e2e2e" stroke-width="0.14" >3</text>
<text x="186.39999999999998" y="392.9" font-size="7.0" text-anchor="middle" fill="#2e2e2e" font-weight="normal" font-style="normal" textLength="3.5" lengthAdjust="spacingAndGlyphs" stroke="#2e2e2e" stroke-width="0.14" >2</text>
<text x="230.7" y="392.9" font-size="7.0" text-anchor="middle" fill="#2e2e2e" font-weight="normal" font-style="normal" textLength="3.5" lengthAdjust="spacingAndGlyphs" stroke="#2e2e2e" stroke-width="0.14" >0</text>
<text x="53.5" y="402.7" font-size="7.0" text-anchor="middle" fill="#2e2e2e" font-weight="normal" font-style="normal" textLength="10.5" lengthAdjust="spacingAndGlyphs" stroke="#2e2e2e" stroke-width="0.14" >176</text>
<text x="97.8" y="402.7" font-size="7.0" text-anchor="middle" fill="#2e2e2e" font-weight="normal" font-style="normal" textLength="7.0" lengthAdjust="spacingAndGlyphs" stroke="#2e2e2e" stroke-width="0.14" >85</text>
<text x="142.1" y="402.7" font-size="7.0" text-anchor="middle" fill="#2e2e2e" font-weight="normal" font-style="normal" textLength="7.0" lengthAdjust="spacingAndGlyphs" stroke="#2e2e2e" stroke-width="0.14" >46</text>
<text x="186.39999999999998" y="402.7" font-size="7.0" text-anchor="middle" fill="#2e2e2e" font-weight="normal" font-style="normal" textLength="7.0" lengthAdjust="spacingAndGlyphs" stroke="#2e2e2e" stroke-width="0.14" >18</text>
<text x="230.7" y="402.7" font-size="7.0" text-anchor="middle" fill="#2e2e2e" font-weight="normal" font-style="normal" textLength="3.5" lengthAdjust="spacingAndGlyphs" stroke="#2e2e2e" stroke-width="0.14" >1</text>
<line x1="308.2" y1="211.7" x2="308.2" y2="349.0" stroke="#231f20" stroke-width="1.3"/>
<line x1="307.7" y1="348.5" x2="492.6" y2="348.5" stroke="#231f20" stroke-width="1.35"/>
<line x1="305.4" y1="348.5" x2="308.2" y2="348.5" stroke="#231f20" stroke-width="0.9"/>
<text x="303.2" y="350.7" font-size="7.0" text-anchor="end" fill="#2e2e2e" font-weight="normal" font-style="normal" textLength="3.3" lengthAdjust="spacingAndGlyphs" stroke="#2e2e2e" stroke-width="0.14" >0</text>
<line x1="305.4" y1="315.0" x2="308.2" y2="315.0" stroke="#231f20" stroke-width="0.9"/>
<text x="303.2" y="317.2" font-size="7.0" text-anchor="end" fill="#2e2e2e" font-weight="normal" font-style="normal" textLength="6.8" lengthAdjust="spacingAndGlyphs" stroke="#2e2e2e" stroke-width="0.14" >25</text>
<line x1="305.4" y1="281.5" x2="308.2" y2="281.5" stroke="#231f20" stroke-width="0.9"/>
<text x="303.2" y="283.7" font-size="7.0" text-anchor="end" fill="#2e2e2e" font-weight="normal" font-style="normal" textLength="6.8" lengthAdjust="spacingAndGlyphs" stroke="#2e2e2e" stroke-width="0.14" >50</text>
<line x1="305.4" y1="248.0" x2="308.2" y2="248.0" stroke="#231f20" stroke-width="0.9"/>
<text x="303.2" y="250.2" font-size="7.0" text-anchor="end" fill="#2e2e2e" font-weight="normal" font-style="normal" textLength="6.8" lengthAdjust="spacingAndGlyphs" stroke="#2e2e2e" stroke-width="0.14" >75</text>
<line x1="305.4" y1="214.5" x2="308.2" y2="214.5" stroke="#231f20" stroke-width="0.9"/>
<text x="303.2" y="216.7" font-size="7.0" text-anchor="end" fill="#2e2e2e" font-weight="normal" font-style="normal" textLength="10.2" lengthAdjust="spacingAndGlyphs" stroke="#2e2e2e" stroke-width="0.14" >100</text>
<line x1="308.2" y1="348.5" x2="308.2" y2="351.6" stroke="#231f20" stroke-width="1.0"/>
<text x="308.2" y="359.7" font-size="7.0" text-anchor="middle" fill="#2e2e2e" font-weight="normal" font-style="normal" textLength="3.3" lengthAdjust="spacingAndGlyphs" stroke="#2e2e2e" stroke-width="0.14" >0</text>
<line x1="352.5" y1="348.5" x2="352.5" y2="351.6" stroke="#231f20" stroke-width="1.0"/>
<text x="352.5" y="359.7" font-size="7.0" text-anchor="middle" fill="#2e2e2e" font-weight="normal" font-style="normal" textLength="3.3" lengthAdjust="spacingAndGlyphs" stroke="#2e2e2e" stroke-width="0.14" >5</text>
<line x1="396.79999999999995" y1="348.5" x2="396.79999999999995" y2="351.6" stroke="#231f20" stroke-width="1.0"/>
<text x="396.79999999999995" y="359.7" font-size="7.0" text-anchor="middle" fill="#2e2e2e" font-weight="normal" font-style="normal" textLength="6.8" lengthAdjust="spacingAndGlyphs" stroke="#2e2e2e" stroke-width="0.14" >10</text>
<line x1="441.09999999999997" y1="348.5" x2="441.09999999999997" y2="351.6" stroke="#231f20" stroke-width="1.0"/>
<text x="441.09999999999997" y="359.7" font-size="7.0" text-anchor="middle" fill="#2e2e2e" font-weight="normal" font-style="normal" textLength="6.8" lengthAdjust="spacingAndGlyphs" stroke="#2e2e2e" stroke-width="0.14" >15</text>
<line x1="485.4" y1="348.5" x2="485.4" y2="351.6" stroke="#231f20" stroke-width="1.0"/>
<text x="485.4" y="359.7" font-size="7.0" text-anchor="middle" fill="#2e2e2e" font-weight="normal" font-style="normal" textLength="6.8" lengthAdjust="spacingAndGlyphs" stroke="#2e2e2e" stroke-width="0.14" >20</text>
<text x="356.4" y="371.7" font-size="7.9" text-anchor="start" fill="#2e2e2e" font-weight="normal" font-style="normal" textLength="77.6" lengthAdjust="spacingAndGlyphs" stroke="#2e2e2e" stroke-width="0.14" >Years since MBL diagnosis</text>
<text transform="translate(285.4,280) rotate(-90)" x="0" y="0" font-size="7.5" text-anchor="middle" fill="#2e2e2e" stroke="#2e2e2e" stroke-width="0.18" textLength="34" lengthAdjust="spacingAndGlyphs">Treated (%)</text>
<text x="464" y="341.4" font-size="7.0" text-anchor="start" fill="#2e2e2e" font-weight="normal" font-style="normal" textLength="22.4" lengthAdjust="spacingAndGlyphs" stroke="#2e2e2e" stroke-width="0.14" ><tspan font-style="italic">P</tspan> &lt; .001</text>
<line x1="317.5" y1="217.8" x2="333.3" y2="217.8" stroke="#4a2e5e" stroke-width="1.25" stroke-dasharray="2.9,3.2"/>
<text x="334.5" y="220.5" font-size="7.0" text-anchor="start" fill="#2e2e2e" font-weight="normal" font-style="normal" textLength="37.7" lengthAdjust="spacingAndGlyphs" stroke="#2e2e2e" stroke-width="0.14" >ELC high-risk</text>
<line x1="317.5" y1="228.2" x2="333.3" y2="228.2" stroke="#6cc6dc" stroke-width="1.1"/>
<text x="334.5" y="230.9" font-size="7.0" text-anchor="start" fill="#2e2e2e" font-weight="normal" font-style="normal" textLength="34.8" lengthAdjust="spacingAndGlyphs" stroke="#2e2e2e" stroke-width="0.14" >ELC low-risk</text>
<text x="261.7" y="383.0" font-size="7.0" text-anchor="start" fill="#2e2e2e" font-weight="normal" font-style="normal" textLength="44" lengthAdjust="spacingAndGlyphs" stroke="#2e2e2e" stroke-width="0.14" >Number at risk:</text>
<line x1="261.7" y1="383.9" x2="305.7" y2="383.9" stroke="#231f20" stroke-width="0.55"/>
<text x="261.7" y="392.9" font-size="7.0" text-anchor="start" fill="#2e2e2e" font-weight="normal" font-style="normal" textLength="37" lengthAdjust="spacingAndGlyphs" stroke="#2e2e2e" stroke-width="0.14" >ELC high-risk</text>
<text x="261.7" y="402.7" font-size="7.0" text-anchor="start" fill="#2e2e2e" font-weight="normal" font-style="normal" textLength="34.2" lengthAdjust="spacingAndGlyphs" stroke="#2e2e2e" stroke-width="0.14" >ELC low-risk</text>
<polyline points="308.5,348.3 326.0,348.1 331.3,347.2 336.6,346.7 339.2,344.9 345.4,344.9 350.6,343.7 357.6,343.5 362.7,343.5 364.2,342.3 366.5,341.5 368.8,338.0 370.4,337.4 388.1,337.4 389.6,335.4 393.5,334.6 395.8,333.1 405.0,333.1 406.5,330.8 415.0,330.8 416.5,324.6 486.0,324.6" fill="none" stroke="#2fa8dc" stroke-width="1.45"/>
<line x1="420" y1="323.2" x2="420" y2="326" stroke="#2a8cb8" stroke-width="0.7"/>
<line x1="426" y1="323.2" x2="426" y2="326" stroke="#2a8cb8" stroke-width="0.7"/>
<line x1="431" y1="323.2" x2="431" y2="326" stroke="#2a8cb8" stroke-width="0.7"/>
<line x1="437" y1="323.2" x2="437" y2="326" stroke="#2a8cb8" stroke-width="0.7"/>
<line x1="444" y1="323.2" x2="444" y2="326" stroke="#2a8cb8" stroke-width="0.7"/>
<line x1="450" y1="323.2" x2="450" y2="326" stroke="#2a8cb8" stroke-width="0.7"/>
<line x1="456" y1="323.2" x2="456" y2="326" stroke="#2a8cb8" stroke-width="0.7"/>
<line x1="462" y1="323.2" x2="462" y2="326" stroke="#2a8cb8" stroke-width="0.7"/>
<line x1="468" y1="323.2" x2="468" y2="326" stroke="#2a8cb8" stroke-width="0.7"/>
<line x1="474" y1="323.2" x2="474" y2="326" stroke="#2a8cb8" stroke-width="0.7"/>
<line x1="480" y1="323.2" x2="480" y2="326" stroke="#2a8cb8" stroke-width="0.7"/>
<line x1="485" y1="323.2" x2="485" y2="326" stroke="#2a8cb8" stroke-width="0.7"/>
<line x1="339" y1="345.3" x2="339" y2="348.09999999999997" stroke="#2a8cb8" stroke-width="0.7"/>
<line x1="343" y1="343.5" x2="343" y2="346.29999999999995" stroke="#2a8cb8" stroke-width="0.7"/>
<line x1="353" y1="342.3" x2="353" y2="345.09999999999997" stroke="#2a8cb8" stroke-width="0.7"/>
<line x1="356" y1="342.3" x2="356" y2="345.09999999999997" stroke="#2a8cb8" stroke-width="0.7"/>
<line x1="373" y1="336.0" x2="373" y2="338.79999999999995" stroke="#2a8cb8" stroke-width="0.7"/>
<line x1="377" y1="336.0" x2="377" y2="338.79999999999995" stroke="#2a8cb8" stroke-width="0.7"/>
<line x1="382" y1="336.0" x2="382" y2="338.79999999999995" stroke="#2a8cb8" stroke-width="0.7"/>
<line x1="386" y1="336.0" x2="386" y2="338.79999999999995" stroke="#2a8cb8" stroke-width="0.7"/>
<line x1="398" y1="331.70000000000005" x2="398" y2="334.5" stroke="#2a8cb8" stroke-width="0.7"/>
<line x1="402" y1="331.70000000000005" x2="402" y2="334.5" stroke="#2a8cb8" stroke-width="0.7"/>
<line x1="409" y1="329.40000000000003" x2="409" y2="332.2" stroke="#2a8cb8" stroke-width="0.7"/>
<line x1="413" y1="329.40000000000003" x2="413" y2="332.2" stroke="#2a8cb8" stroke-width="0.7"/>
<polyline points="308.5,348.3 316.4,347.5 317.3,344.9 321.7,344.6 323.4,342.3 325.2,336.1 326.9,330.9 328.7,324.7 333.1,324.2 334.8,320.4 336.6,315.1 342.7,315.1 344.5,309.8 347.1,305.4 350.6,301.1 353.2,295.8 355.9,291.4 357.6,285.4 364.4,284.9 366.1,279.4 368.6,274.3 371.2,268.8 386.5,268.3 387.4,261.5 390.8,261.0 395.0,256.4 395.9,253.5 405.3,253.5 407.0,249.6 408.7,246.5 415.5,246.5 417.2,240.2 418.0,238.9 423.1,238.9" fill="none" stroke="#573868" stroke-width="1.35" stroke-dasharray="2.4,3.0"/>
<text x="308.2" y="392.9" font-size="7.0" text-anchor="middle" fill="#2e2e2e" font-weight="normal" font-style="normal" textLength="7.0" lengthAdjust="spacingAndGlyphs" stroke="#2e2e2e" stroke-width="0.14" >43</text>
<text x="352.5" y="392.9" font-size="7.0" text-anchor="middle" fill="#2e2e2e" font-weight="normal" font-style="normal" textLength="7.0" lengthAdjust="spacingAndGlyphs" stroke="#2e2e2e" stroke-width="0.14" >15</text>
<text x="396.79999999999995" y="392.9" font-size="7.0" text-anchor="middle" fill="#2e2e2e" font-weight="normal" font-style="normal" textLength="3.5" lengthAdjust="spacingAndGlyphs" stroke="#2e2e2e" stroke-width="0.14" >4</text>
<text x="441.09999999999997" y="392.9" font-size="7.0" text-anchor="middle" fill="#2e2e2e" font-weight="normal" font-style="normal" textLength="3.5" lengthAdjust="spacingAndGlyphs" stroke="#2e2e2e" stroke-width="0.14" >0</text>
<text x="308.2" y="402.7" font-size="7.0" text-anchor="middle" fill="#2e2e2e" font-weight="normal" font-style="normal" textLength="10.5" lengthAdjust="spacingAndGlyphs" stroke="#2e2e2e" stroke-width="0.14" >176</text>
<text x="352.5" y="402.7" font-size="7.0" text-anchor="middle" fill="#2e2e2e" font-weight="normal" font-style="normal" textLength="7.0" lengthAdjust="spacingAndGlyphs" stroke="#2e2e2e" stroke-width="0.14" >93</text>
<text x="396.79999999999995" y="402.7" font-size="7.0" text-anchor="middle" fill="#2e2e2e" font-weight="normal" font-style="normal" textLength="7.0" lengthAdjust="spacingAndGlyphs" stroke="#2e2e2e" stroke-width="0.14" >53</text>
<text x="441.09999999999997" y="402.7" font-size="7.0" text-anchor="middle" fill="#2e2e2e" font-weight="normal" font-style="normal" textLength="7.0" lengthAdjust="spacingAndGlyphs" stroke="#2e2e2e" stroke-width="0.14" >15</text>
<text x="485.4" y="402.7" font-size="7.0" text-anchor="middle" fill="#2e2e2e" font-weight="normal" font-style="normal" textLength="3.5" lengthAdjust="spacingAndGlyphs" stroke="#2e2e2e" stroke-width="0.14" >1</text>
</svg>
<div style="position:absolute;left:0;top:0;width:518px;height:409px;border:1px solid #454545;border-left-color:#5a5a5a"></div>
</body></html>
